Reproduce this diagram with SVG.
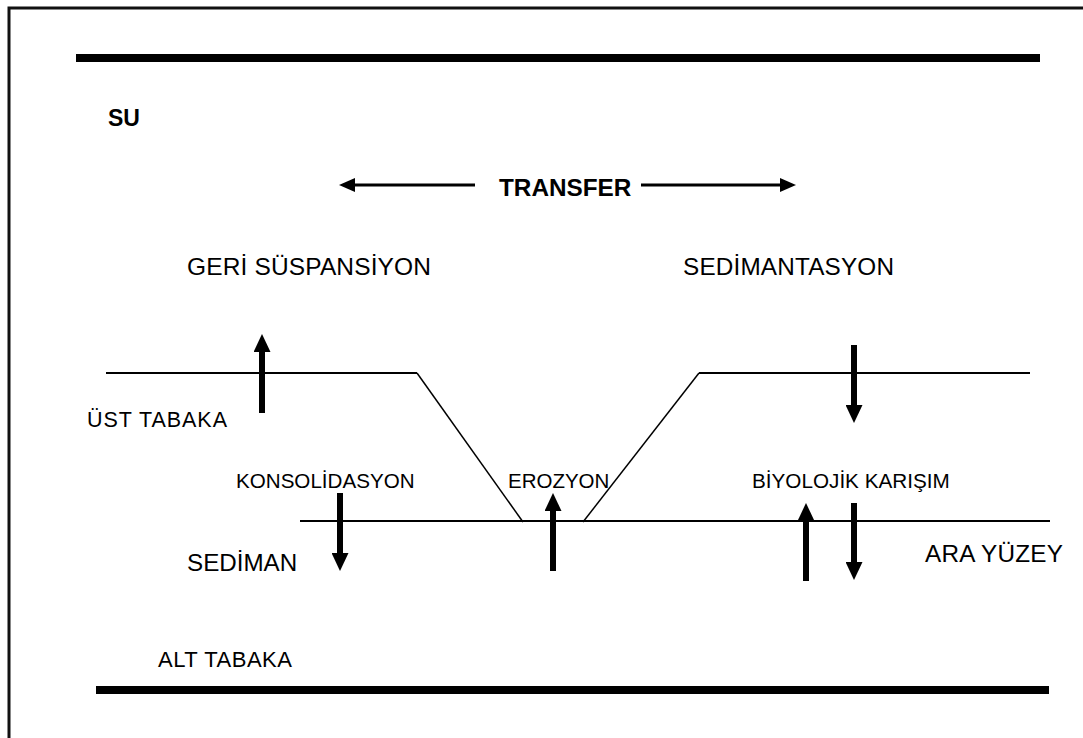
<svg xmlns="http://www.w3.org/2000/svg" width="1083" height="738" viewBox="0 0 1083 738">
<style>
text{font-family:"Liberation Sans",Arial,sans-serif;fill:#000}
.b{font-weight:bold}
.bar{fill:#000}
.layer{fill:none;stroke:#000;stroke-width:2}
.diag{fill:none;stroke:#000;stroke-width:1.5}
.thick{stroke:#000;stroke-width:6}
.thin{stroke:#000;stroke-width:3}
</style>
<defs>
<marker id="bigHead" viewBox="0 0 18 17" refX="0" refY="8.5" markerWidth="18" markerHeight="17" markerUnits="userSpaceOnUse" orient="auto">
<path d="M0,0 L18,8.5 L0,17 Z" fill="#000"/>
</marker>
<marker id="smallHead" viewBox="0 0 16 14" refX="0" refY="7" markerWidth="16" markerHeight="14" markerUnits="userSpaceOnUse" orient="auto-start-reverse">
<path d="M0,0 L16,7 L0,14 Z" fill="#000"/>
</marker>
</defs>
<rect width="1083" height="738" fill="#fff"/>
<path d="M9,738 V8 H1083" fill="none" stroke="#111" stroke-width="3"/>
<g id="bars">
<rect class="bar" x="76" y="54" width="964" height="8"/>
<rect class="bar" x="96" y="686" width="953" height="8"/>
</g>
<g id="layers">
<path class="layer" d="M106,373 H417"/>
<path class="diag" d="M417,373 L523,522"/>
<path class="diag" d="M583,522 L699,373"/>
<path class="layer" d="M699,373 H1030"/>
<path class="layer" d="M300,521 H1050"/>
</g>
<g id="connectors">
<line class="thin" x1="475" y1="185" x2="355" y2="185" marker-end="url(#smallHead)"/>
<line class="thin" x1="641" y1="185" x2="780" y2="185" marker-end="url(#smallHead)"/>
<line class="thick" x1="262" y1="413" x2="262" y2="352" marker-end="url(#bigHead)"/>
<line class="thick" x1="340" y1="493" x2="340" y2="553" marker-end="url(#bigHead)"/>
<line class="thick" x1="553" y1="571" x2="553" y2="511" marker-end="url(#bigHead)"/>
<line class="thick" x1="854" y1="345" x2="854" y2="405" marker-end="url(#bigHead)"/>
<line class="thick" x1="806" y1="581" x2="806" y2="521" marker-end="url(#bigHead)"/>
<line class="thick" x1="854" y1="503" x2="854" y2="562" marker-end="url(#bigHead)"/>
</g>
<g id="su"><text class="b" x="108" y="126" font-size="23">SU</text></g>
<g id="transfer"><text class="b" x="499" y="196" font-size="24.3">TRANSFER</text></g>
<g id="geri"><text x="187" y="275" font-size="24.5" textLength="244">GERİ SÜSPANSİYON</text></g>
<g id="sedimantasyon"><text x="683" y="275" font-size="24.3" textLength="211">SEDİMANTASYON</text></g>
<g id="ust"><text x="87" y="427" font-size="21.5" textLength="140">ÜST TABAKA</text></g>
<g id="konsolidasyon"><text x="236" y="488" font-size="20.6">KONSOLİDASYON</text></g>
<g id="erozyon"><text x="508" y="488" font-size="20.5">EROZYON</text></g>
<g id="biyolojik"><text x="752" y="488" font-size="20.7">BİYOLOJİK KARIŞIM</text></g>
<g id="sediman"><text x="187" y="571" font-size="24.2">SEDİMAN</text></g>
<g id="ara"><text x="925" y="562" font-size="24.3" textLength="138">ARA YÜZEY</text></g>
<g id="alt"><text x="158" y="667" font-size="22" textLength="134">ALT TABAKA</text></g>
</svg>
